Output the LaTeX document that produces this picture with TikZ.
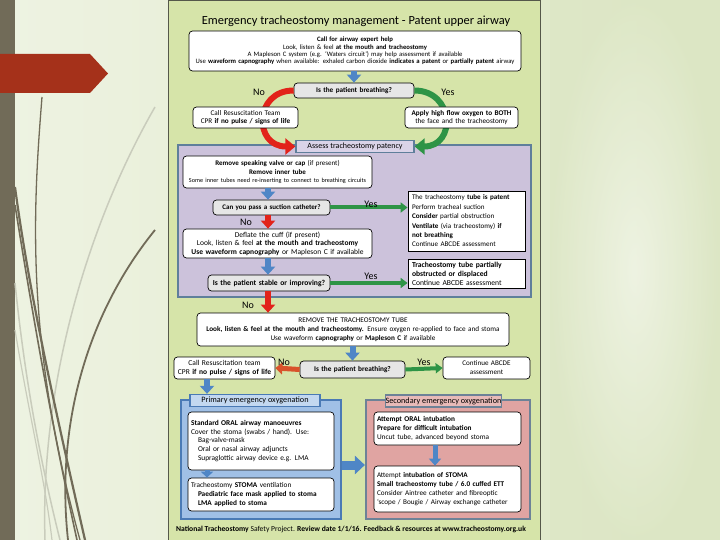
\documentclass[tikz,border=0pt]{standalone}
\usepackage{fontspec}
\setmainfont{Carlito}
\usetikzlibrary{arrows.meta}
\definecolor{bgA}{HTML}{EEF3E2}
\definecolor{bgB}{HTML}{DCE6C4}
\definecolor{grass}{HTML}{716B58}
\definecolor{grassl}{HTML}{C9CCBC}
\definecolor{flagred}{HTML}{A5311A}
\definecolor{pgreen}{HTML}{D6E4A9}
\definecolor{pborder}{HTML}{55584A}
\definecolor{purp}{HTML}{CCC2DB}
\definecolor{purpl}{HTML}{DAD3E8}
\definecolor{purpb}{HTML}{5F7F9B}
\definecolor{bfill}{HTML}{A0C0E6}
\definecolor{bfilll}{HTML}{C3D8F0}
\definecolor{bborder}{HTML}{4A7AB5}
\definecolor{rfill}{HTML}{E0A4A2}
\definecolor{rfilll}{HTML}{E8BAB8}
\definecolor{rborder}{HTML}{6D8297}
\definecolor{qgray}{HTML}{E6E6E6}
\definecolor{arrblue}{HTML}{4F86C6}
\definecolor{arrred}{HTML}{E2231A}
\definecolor{arrgreen}{HTML}{2E9446}
\definecolor{arrorange}{HTML}{D9532B}
\newcommand\myfs[2]{\fontsize{#1}{#2}\selectfont}
\begin{document}
\begin{tikzpicture}[x=1pt,y=-1pt,
  box/.style={draw=black, line width=0.7pt, fill=white, rounded corners=3.5pt, inner xsep=3pt, inner ysep=1pt, align=center},
  qbox/.style={box, fill=qgray},
  sqbox/.style={draw=black, line width=0.8pt, fill=white, inner xsep=4pt, inner ysep=1pt, align=left},
  panel/.style={line width=2.2pt, inner sep=0pt},
  plab/.style={line width=1.3pt, inner sep=0pt, align=center, font=\myfs{8.2}{9}},
  barrow/.style={draw=arrblue, line width=6pt, -{Triangle[width=14pt,length=8pt]}},
  rarrow/.style={draw=arrred, line width=6pt, -{Triangle[width=14pt,length=8pt]}},
  garrow/.style={draw=arrgreen, line width=4pt, -{Triangle[width=10pt,length=7pt]}},
  lbl/.style={font=\myfs{10}{12}, inner sep=0pt},
]
\useasboundingbox (0,0) rectangle (720,540);
% background
\shade[left color=bgA, right color=bgB] (0,0) rectangle (720,540);
\shade[inner color=white!60!bgA, outer color=bgB, opacity=0.6] (550,0) rectangle (720,540);
\fill[grass] (0,0) rectangle (15,540);
\fill[flagred] (0,54) -- (90,54) -- (108,73.5) -- (90,93) -- (0,93) -- cycle;
% grass strokes
\draw[grassl, line width=1.5pt] (155,107) .. controls (90,220) and (40,380) .. (45,540);
\draw[grassl, line width=1.5pt] (15,283) .. controls (25,380) and (40,460) .. (60,540);
\draw[grassl, line width=1.2pt] (15,330) .. controls (30,420) and (45,480) .. (52,540);
\draw[grass, line width=1.3pt] (42,97) .. controls (33,210) and (25,340) .. (80,540);
\draw[grass, line width=2.2pt] (15,187) .. controls (30,300) and (60,430) .. (85,540);
\draw[grass, line width=1.6pt] (15,205) .. controls (35,330) and (55,440) .. (77,540);
\draw[grass, line width=1.8pt] (155,230) .. controls (90,310) and (55,420) .. (68,540);
% main panel
\draw[fill=pgreen, draw=pborder, line width=0.8pt] (168,0.5) rectangle (540,545);
\node[font=\myfs{12.4}{14}] (title) at (356,21) {Emergency tracheostomy management - Patent upper airway};
\node[box, text width=326pt, minimum height=40pt, font=\myfs{6.7}{7.4}] (top) at (355,51)
 {\textbf{Call for airway expert help}\\
  Look, listen \& feel \textbf{at the mouth and tracheostomy}\\
  A Mapleson C system (e.g. `Waters circuit') may help assessment if available\\
  Use \textbf{waveform capnography} when available: exhaled carbon dioxide \textbf{indicates a patent} or \textbf{partially patent} airway};
\node[qbox, text width=114pt, minimum height=15pt, font=\myfs{7.2}{8}\bfseries] (q1) at (354,90.5) {Is the patient breathing?};
\draw[barrow] (top.south -| q1.north) -- (q1.north);
% purple panel
\node[panel, draw=purpb, fill=purp, minimum width=353pt, minimum height=152pt] (ppanel) at (354.5,221) {};
\node[plab, draw=purpb, fill=purpl, minimum width=118pt, minimum height=12pt, font=\myfs{8}{9}] (assess) at (355,146.5) {Assess tracheostomy patency};
% curved arrows
\draw[draw=arrred, line width=6pt, -{Triangle[width=16pt,length=10pt]}] (q1.west) .. controls +(-40,0) and +(-42,0) .. (assess.west);
\draw[draw=arrgreen, line width=6pt, -{Triangle[width=16pt,length=10pt]}] (q1.east) .. controls +(40,0) and +(42,0) .. (assess.east);
\node[lbl] at (259,92) {No};
\node[lbl] at (448,92) {Yes};
\node[box, text width=99pt, minimum height=21pt, font=\myfs{7.2}{8.5}] (resus1) at (245.5,117.5)
 {Call Resuscitation Team\\CPR \textbf{if no pulse / signs of life}};
\node[box, text width=107pt, minimum height=21pt, font=\myfs{7.2}{8.5}] (oxy) at (461.5,117.5)
 {\textbf{Apply high flow oxygen to BOTH}\\the face and the tracheostomy};
% inside purple
\coordinate (ax) at (268,0);
\node[box, text width=183pt, minimum height=32pt, font=\myfs{7}{8.8}] (remove) at (277.5,172)
 {\textbf{Remove speaking valve or cap} (if present)\\\textbf{Remove inner tube}\\{\myfs{6.2}{8.8}Some inner tubes need re-inserting to connect to breathing circuits}};
\node[qbox, text width=111pt, minimum height=15pt, font=\myfs{7}{8}\bfseries] (suction) at (271.5,207.5) {Can you pass a suction catheter?};
\node[sqbox, text width=109pt, minimum height=60pt, font=\myfs{7.1}{9.4}] (patent) at (466.5,221)
 {The tracheostomy \textbf{tube is patent}\\Perform tracheal suction\\\textbf{Consider} partial obstruction\\\textbf{Ventilate} (via tracheostomy) \textbf{if}\\\textbf{not breathing}\\Continue ABCDE assessment};
\node[box, text width=183pt, minimum height=29pt, font=\myfs{7.5}{8.6}] (deflate) at (277.5,243.5)
 {Deflate the cuff (if present)\\Look, listen \& feel \textbf{at the mouth and tracheostomy}\\\textbf{Use waveform capnography} or Mapleson C if available};
\node[qbox, text width=116pt, minimum height=16pt, font=\myfs{7.6}{8.5}\bfseries] (stable) at (269,283) {Is the patient stable or improving?};
\node[sqbox, text width=109pt, minimum height=29pt, font=\myfs{7.6}{9}] (partial) at (466.5,273.5)
 {\textbf{Tracheostomy tube partially}\\\textbf{obstructed or displaced}\\Continue ABCDE assessment};
\draw[barrow] (remove.south -| ax) -- (suction.north -| ax);
\draw[rarrow] (suction.south -| ax) -- (deflate.north -| ax);
\node[lbl] at (246,222) {No};
\draw[barrow] (deflate.south -| ax) -- (stable.north -| ax);
\draw[garrow] (suction.east) -- (suction.east -| patent.west);
\node[lbl] at (371,204) {Yes};
\draw[garrow] (stable.east) -- (stable.east -| partial.west);
\node[lbl] at (371,276) {Yes};
% remove tube
\node[box, text width=306pt, minimum height=33pt, font=\myfs{7.2}{9}] (rmtube) at (353,329.5)
 {REMOVE THE TRACHEOSTOMY TUBE\\\textbf{Look, listen \& feel at the mouth and tracheostomy.} Ensure oxygen re-applied to face and stoma\\Use waveform \textbf{capnography} or \textbf{Mapleson C} if available};
\draw[rarrow] (stable.south -| ax) -- (rmtube.north -| ax);
\node[lbl] at (248,305) {No};
\node[qbox, text width=99pt, minimum height=17pt, font=\myfs{7.3}{8}\bfseries] (q2) at (352.5,369.5) {Is the patient breathing?};
\node[box, text width=95pt, minimum height=22pt, font=\myfs{7.5}{9}] (resus2) at (224.5,368)
 {Call Resuscitation team\\CPR \textbf{if no pulse / signs of life}};
\node[box, text width=81pt, minimum height=22pt, font=\myfs{7.1}{9}] (abcde) at (486.5,368)
 {Continue ABCDE\\assessment};
\draw[barrow] (rmtube.south -| q2.north) -- (q2.north);
\draw[draw=arrorange, line width=5pt, -{Triangle[width=12pt,length=7pt]}] (q2.west) -- (resus2.east);
\node[lbl] at (284,362) {No};
\draw[garrow] (q2.east) -- (abcde.west);
\node[lbl] at (424,362) {Yes};
% primary panel
\node[panel, draw=bborder, fill=bfill, minimum width=160pt, minimum height=119pt] (bpanel) at (261,459.5) {};
\node[plab, draw=bborder, fill=bfilll, minimum width=130pt, minimum height=12pt] (plabel) at (255,400.5) {Primary emergency oxygenation};
\node[box, text width=140pt, minimum height=58pt, align=left, font=\myfs{7.4}{8.8}] (prim1) at (261,441)
 {\textbf{Standard ORAL airway manoeuvres}\\Cover the stoma (swabs / hand). Use:\\\hspace*{7pt}Bag-valve-mask\\\hspace*{7pt}Oral or nasal airway adjuncts\\\hspace*{7pt}Supraglottic airway device e.g. LMA};
\node[box, text width=140pt, minimum height=33pt, align=left, font=\myfs{7.3}{8.8}] (prim2) at (261,494.5)
 {Tracheostomy \textbf{STOMA} ventilation\\\hspace*{7pt}\textbf{Paediatric face mask applied to stoma}\\\hspace*{7pt}\textbf{LMA applied to stoma}};
\coordinate (bx) at (207,0);
\draw[barrow] (resus2.south -| bx) -- (plabel.north -| bx);
\draw[draw=arrblue, line width=5pt, -{Triangle[width=12pt,length=6pt]}] (prim1.south -| bx) -- (prim2.north -| bx);
% secondary panel
\node[panel, draw=rborder, fill=rfill, minimum width=164pt, minimum height=119pt] (rpanel) at (448,459.5) {};
\node[plab, draw=rborder, fill=rfilll, minimum width=115pt, minimum height=12pt] (slabel) at (443.5,401) {Secondary emergency oxygenation};
\node[box, text width=141pt, minimum height=33pt, align=left, font=\myfs{7.3}{8.8}] (sec1) at (447.5,428.5)
 {\textbf{Attempt ORAL intubation}\\\textbf{Prepare for difficult intubation}\\Uncut tube, advanced beyond stoma};
\node[box, text width=141pt, minimum height=46pt, align=left, font=\myfs{7.2}{8.8}] (sec2) at (447.5,489)
 {Attempt \textbf{intubation of STOMA}\\\textbf{Small tracheostomy tube / 6.0 cuffed ETT}\\Consider Aintree catheter and fibreoptic\\`scope / Bougie / Airway exchange catheter};
\draw[draw=arrblue, line width=5pt, -{Triangle[width=12pt,length=7pt]}] (sec1.south -| 435,0) -- (sec2.north -| 435,0);
\coordinate (my) at (0,465);
\draw[draw=arrblue, line width=9pt, -{Triangle[width=18pt,length=10pt]}] (bpanel.east |- my) -- (rpanel.west |- my);
% footer
\node[font=\myfs{7.6}{9}, inner sep=0pt] (footer) at (351,529)
 {\textbf{National Tracheostomy} Safety Project. \textbf{Review date 1/1/16. Feedback \& resources at www.tracheostomy.org.uk}};
\end{tikzpicture}
\end{document}
